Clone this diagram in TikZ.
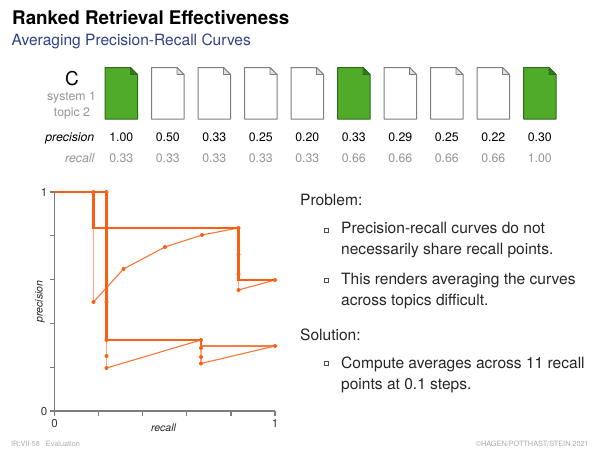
\documentclass[tikz,border=0pt]{standalone}
\usepackage{fontspec}
\setmainfont{TeX Gyre Heros}
\definecolor{docgreen}{RGB}{80,172,40}
\definecolor{docgreenline}{RGB}{45,105,30}
\definecolor{docline}{RGB}{125,125,125}
\definecolor{curve}{RGB}{250,95,20}
\definecolor{subtitle}{RGB}{45,65,135}
\definecolor{lightlabel}{RGB}{150,150,150}
\definecolor{footer}{RGB}{170,170,170}
\definecolor{axisline}{RGB}{125,125,125}
\newcommand{\fs}[1]{\fontsize{#1}{#1}\selectfont}
\tikzset{
  x=1pt,y=-1pt,
  lbl/.style={inner sep=0pt,anchor=base,font=\fs{12.3}},
  lblr/.style={lbl,anchor=base east},
  body/.style={inner sep=0pt,anchor=base west,font=\fs{15.55},text=black!85},
  ticklbl/.style={inner sep=0pt,anchor=base,font=\fs{11.5},text=black!80},
  axlbl/.style={inner sep=0pt,font=\fs{10.5}\itshape,text=black!85},
  foot/.style={inner sep=0pt,anchor=base,font=\fs{7.3},text=footer},
  thickc/.style={curve,line width=2.2pt,line join=miter},
  medc/.style={curve!80,line width=2pt},
  thinc/.style={curve!85,line width=1.1pt,line join=round},
  thinv/.style={curve!55,line width=1.6pt},
  ptc/.style={circle,fill=curve,inner sep=0pt,minimum size=4pt},
  ax/.style={axisline,line width=1.3pt},
  bullet/.style={draw=black!70,fill=white,line width=0.6pt,inner sep=0pt,minimum size=3.6pt,
    preaction={fill=black!75,transform canvas={shift={(0.8pt,-0.8pt)}}}},
  docw/.pic={
    \fill[white,draw=docline,line width=1pt,line join=round] (0,0) -- (25.5,0) -- (32.5,7) -- (32.5,51.5) -- (0,51.5) -- cycle;
    \draw[docline,fill=black!12,line width=0.8pt,line join=round] (25.5,0) -- (25.5,7) -- (32.5,7) -- cycle;
  },
  docg/.pic={
    \fill[docgreen,draw=docgreenline,line width=1pt,line join=round] (0,0) -- (25.5,0) -- (32.5,7) -- (32.5,51.5) -- (0,51.5) -- cycle;
    \draw[docgreenline,fill=docgreen!70!black,line width=0.8pt,line join=round] (25.5,0) -- (25.5,7) -- (32.5,7) -- cycle;
  },
}
\begin{document}
\begin{tikzpicture}
\useasboundingbox (0,0) rectangle (600,450);
\fill[white] (0,0) rectangle (600,450);
% heading
\node[inner sep=0pt,anchor=base west,font=\fs{18.8}\bfseries] (title) at (12,24.5) {Ranked Retrieval Effectiveness};
\node[inner sep=0pt,anchor=base west,font=\fs{15.55},text=subtitle] (sub) at (11.5,45.5) {Averaging Precision-Recall Curves};
% row labels
\node[inner sep=0pt,anchor=base,font=\fs{19}] (cname) at (72,85.5) {C};
\node[inner sep=0pt,anchor=base,font=\fs{12.3},text=lightlabel] (sys) at (71.5,100) {system 1};
\node[inner sep=0pt,anchor=base,font=\fs{12.3},text=lightlabel] (top) at (72,116) {topic 2};
\node[lblr,font=\fs{12.3}\itshape] (plab) at (94.5,141) {precision};
\node[lblr,font=\fs{12.3}\itshape,text=lightlabel] (rlab) at (94.5,162) {recall};
% documents and values
\foreach \i/\kind/\p/\r in {0/docg/1.00/0.33,1/docw/0.50/0.33,2/docw/0.33/0.33,3/docw/0.25/0.33,4/docw/0.20/0.33,5/docg/0.33/0.66,6/docw/0.29/0.66,7/docw/0.25/0.66,8/docw/0.22/0.66,9/docg/0.30/1.00}{
  \pic at ({105+46.5*\i},67.5) {\kind};
  \node[lbl] (p\i) at ({121.3+46.5*\i},141) {\p};
  \node[lbl,text=lightlabel] (r\i) at ({121.3+46.5*\i},162) {\r};
}
% axes
\draw[ax] (54.5,192) -- (54.5,411) -- (275,411);
\foreach \t in {0,1,2,3,4,5}{
  \draw[ax] ({54.5+44.1*\t},411) -- ({54.5+44.1*\t},416);
  \draw[ax] (54.5,{411-43.8*\t}) -- (49.5,{411-43.8*\t});
}
\node[ticklbl] (x0) at (54.5,427) {0};
\node[ticklbl] (x1) at (275,427) {1};
\node[ticklbl] (y0) at (44,415) {0};
\node[ticklbl] (y1) at (44,196) {1};
\node[axlbl] (xl) at (163.5,428) {recall};
\node[axlbl,rotate=90] (yl) at (40,301.5) {precision};
% curve A
\draw[thinv] (93.5,192) -- (93.5,302);
\draw[thinc] (93.5,302) -- (123.5,269) -- (165,247) -- (202,235) -- (238.5,228);
\draw[thinv] (238.5,228) -- (238.5,290);
\draw[thinc] (238.5,290) -- (275,280);
\draw[thickc] (54,192) -- (93.5,192) -- (93.5,228) -- (238.5,228) -- (238.5,280) -- (275,280);
% curve B
\draw[thinv] (106.5,192) -- (106.5,368);
\draw[thinc] (106.5,368) -- (201,340);
\draw[thinv] (201,340) -- (201,363.5);
\draw[thinc] (201,363.5) -- (275,346);
\draw[thickc] (54,192) -- (106.5,192) -- (106.5,340) -- (201,340) -- (201,345.5);
\draw[medc] (201,345.8) -- (275,345.8);
% points
\foreach \n/\x/\y in {a1/93.5/192,a2/93.5/302,a3/123.5/269,a4/165/247,a5/202/235,a6/238.5/228,a7/238.5/254.5,a8/238.5/274,a9/238.5/290,a10/275/280,
 b1/106.5/192,b2/106.5/302,b3/106.5/340,b4/106.5/356,b5/106.5/368,b6/201/340,b7/201/348,b8/201/357,b9/201/363.5,b10/275/346}{
  \node[ptc] (\n) at (\x,\y) {};
}
% right text
\node[body] (prob) at (300,205.5) {Problem:};
\node[bullet] (bu1) at (326,230) {};
\node[body] (t1a) at (341,233) {Precision-recall curves do not};
\node[body] (t1b) at (341,254) {necessarily share recall points.};
\node[bullet] (bu2) at (326,280) {};
\node[body] (t2a) at (341,284) {This renders averaging the curves};
\node[body] (t2b) at (341,305) {across topics difficult.};
\node[body] (sol) at (300,340.5) {Solution:};
\node[bullet] (bu3) at (326,363) {};
\node[body] (t3a) at (341,368) {Compute averages across 11 recall};
\node[body] (t3b) at (341,389) {points at 0.1 steps.};
% footer
\node[foot,anchor=base west] (fl) at (11,446) {IR:VII-58\hspace{6pt}Evaluation};
\node[foot,anchor=base east] (fr) at (589,446) {©HAGEN/POTTHAST/STEIN 2021};
\end{tikzpicture}
\end{document}
